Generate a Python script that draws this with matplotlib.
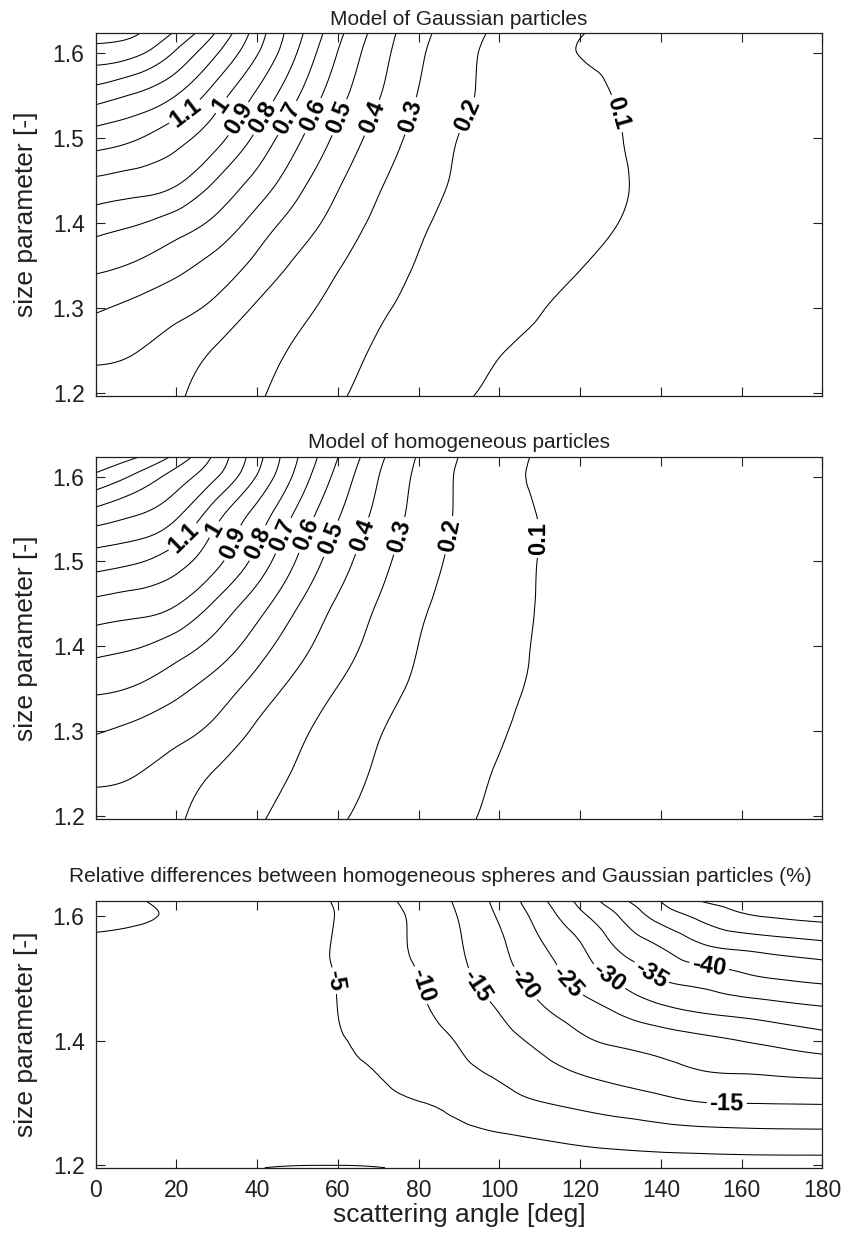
# Contour maps of the scattering quantity vs. angle and size parameter.
import matplotlib.pyplot as plt
import matplotlib.tri as mtri
import numpy as np

plt.rcParams['font.family'] = ['Liberation Sans', 'DejaVu Sans']
plt.rcParams['text.color'] = '#231f20'
plt.rcParams['axes.labelcolor'] = '#231f20'
plt.rcParams['xtick.color'] = '#231f20'
plt.rcParams['ytick.color'] = '#231f20'
plt.rcParams['contour.negative_linestyle'] = 'solid'

# grid: scattering angle [deg] (columns) and size parameter [-] (rows)
angle = [0, 10, 20, 30, 40, 50, 60, 70, 80, 90, 100, 110, 120, 130, 140, 150, 160, 170, 180]
size_param = [1.196, 1.25, 1.3, 1.35, 1.4, 1.45, 1.5, 1.55, 1.6, 1.624]

# model of Gaussian particles
gauss = [
    [0.445, 0.433, 0.41, 0.358, 0.31, 0.26, 0.209, 0.175, 0.145, 0.11, 0.092, 0.087, 0.084, 0.081, 0.078, 0.075, 0.072, 0.07, 0.068],
    [0.527, 0.504, 0.451, 0.392, 0.338, 0.286, 0.234, 0.191, 0.164, 0.137, 0.103, 0.095, 0.088, 0.085, 0.082, 0.079, 0.076, 0.073, 0.07],
    [0.613, 0.574, 0.531, 0.474, 0.387, 0.325, 0.267, 0.213, 0.181, 0.156, 0.131, 0.103, 0.09, 0.086, 0.083, 0.08, 0.077, 0.074, 0.071],
    [0.722, 0.688, 0.63, 0.561, 0.473, 0.379, 0.306, 0.246, 0.195, 0.172, 0.149, 0.126, 0.102, 0.09, 0.085, 0.082, 0.079, 0.076, 0.073],
    [0.842, 0.808, 0.753, 0.675, 0.559, 0.457, 0.358, 0.278, 0.213, 0.183, 0.162, 0.141, 0.12, 0.099, 0.088, 0.084, 0.081, 0.078, 0.075],
    [0.985, 0.96, 0.919, 0.794, 0.67, 0.535, 0.415, 0.314, 0.241, 0.191, 0.17, 0.148, 0.126, 0.104, 0.09, 0.085, 0.082, 0.079, 0.076],
    [1.151, 1.108, 1.032, 0.933, 0.775, 0.618, 0.477, 0.359, 0.268, 0.198, 0.174, 0.15, 0.125, 0.101, 0.09, 0.085, 0.082, 0.079, 0.076],
    [1.345, 1.287, 1.198, 1.046, 0.881, 0.707, 0.536, 0.407, 0.295, 0.219, 0.179, 0.151, 0.123, 0.095, 0.088, 0.084, 0.081, 0.078, 0.075],
    [1.554, 1.52, 1.383, 1.206, 1.006, 0.796, 0.596, 0.44, 0.318, 0.229, 0.175, 0.136, 0.098, 0.09, 0.085, 0.082, 0.079, 0.076, 0.073],
    [1.66, 1.61, 1.484, 1.291, 1.052, 0.83, 0.628, 0.46, 0.334, 0.244, 0.184, 0.147, 0.104, 0.09, 0.085, 0.082, 0.079, 0.076, 0.073],
]

# model of homogeneous particles
homog = [
    [0.445, 0.433, 0.41, 0.358, 0.31, 0.26, 0.209, 0.175, 0.145, 0.11, 0.092, 0.087, 0.084, 0.081, 0.078, 0.075, 0.072, 0.07, 0.068],
    [0.524, 0.503, 0.451, 0.392, 0.341, 0.29, 0.235, 0.19, 0.153, 0.122, 0.096, 0.088, 0.085, 0.082, 0.079, 0.076, 0.073, 0.07, 0.068],
    [0.608, 0.574, 0.531, 0.471, 0.383, 0.317, 0.259, 0.205, 0.17, 0.14, 0.107, 0.085, 0.083, 0.08, 0.077, 0.074, 0.071, 0.069, 0.067],
    [0.716, 0.69, 0.627, 0.552, 0.458, 0.368, 0.297, 0.234, 0.186, 0.154, 0.121, 0.09, 0.086, 0.083, 0.08, 0.077, 0.074, 0.071, 0.069],
    [0.835, 0.808, 0.75, 0.662, 0.547, 0.435, 0.342, 0.266, 0.199, 0.164, 0.129, 0.094, 0.087, 0.084, 0.081, 0.078, 0.075, 0.072, 0.07],
    [0.974, 0.95, 0.906, 0.781, 0.646, 0.507, 0.386, 0.295, 0.217, 0.172, 0.134, 0.097, 0.088, 0.085, 0.082, 0.079, 0.076, 0.073, 0.07],
    [1.144, 1.11, 1.04, 0.923, 0.764, 0.591, 0.446, 0.331, 0.243, 0.18, 0.139, 0.098, 0.088, 0.085, 0.082, 0.079, 0.076, 0.073, 0.07],
    [1.335, 1.287, 1.201, 1.018, 0.85, 0.667, 0.503, 0.369, 0.266, 0.19, 0.143, 0.098, 0.088, 0.085, 0.082, 0.079, 0.076, 0.073, 0.07],
    [1.58, 1.48, 1.356, 1.207, 0.993, 0.769, 0.569, 0.402, 0.279, 0.19, 0.135, 0.085, 0.08, 0.078, 0.076, 0.074, 0.072, 0.07, 0.068],
    [1.66, 1.612, 1.476, 1.272, 1.037, 0.804, 0.602, 0.427, 0.292, 0.199, 0.143, 0.09, 0.085, 0.082, 0.079, 0.076, 0.073, 0.07, 0.068],
]

# relative differences homogeneous vs Gaussian (%)
rel_diff = [
    [-2.0, -1.6, -1.2, -0.7, -0.1, 0.3, 0.35, 0.1, -0.5, -1.0, -1.5, -2.0, -2.3, -2.5, -2.6, -2.7, -2.75, -2.8, -2.8],
    [-2.8, -3.0, -3.1, -3.2, -3.3, -3.4, -3.5, -3.6, -3.9, -4.2, -4.85, -5.6, -6.5, -7.3, -8.0, -8.5, -8.8, -8.95, -9.0],
    [-3.2, -3.4, -3.5, -3.6, -3.8, -4.0, -4.15, -4.35, -4.9, -6.0, -8.1, -9.8, -11.1, -12.36, -13.6, -14.86, -15.1, -15.2, -15.3],
    [-3.1, -3.2, -3.4, -3.6, -3.9, -4.15, -4.5, -5.1, -6.9, -8.85, -10.84, -13.18, -15.33, -16.84, -18.34, -19.85, -20.3, -20.8, -21.3],
    [-2.8, -3.0, -3.2, -3.5, -3.9, -4.3, -4.8, -6.0, -8.1, -10.3, -13.2, -16.13, -19.18, -21.0, -22.4, -23.8, -25.1, -26.5, -27.9],
    [-2.4, -2.6, -2.9, -3.2, -3.7, -4.2, -5.02, -7.13, -9.26, -12.07, -15.3, -19.3, -22.7, -25.9, -28.9, -30.8, -32.0, -33.2, -34.3],
    [-1.8, -2.1, -2.5, -2.9, -3.5, -4.2, -5.15, -7.64, -9.89, -13.65, -17.7, -22.1, -26.8, -31.15, -35.2, -37.0, -38.9, -40.3, -41.2],
    [-0.7, -1.2, -1.8, -2.5, -3.2, -4.1, -5.35, -8.04, -10.76, -14.55, -19.07, -24.3, -29.5, -35.8, -40.05, -44.2, -45.9, -47.1, -48.2],
    [0.6, 0.4, -0.5, -1.7, -2.8, -4.0, -5.15, -8.0, -11.0, -15.26, -20.57, -26.9, -33.85, -40.4, -47.1, -51.25, -54.4, -55.6, -56.3],
    [1.0, 0.24, -0.87, -2.0, -3.1, -4.3, -5.3, -8.44, -11.7, -15.95, -21.55, -28.66, -36.3, -43.8, -50.1, -55.2, -56.5, -57.3, -58.0],
]

model_levels = [0.1, 0.2, 0.3, 0.4, 0.5, 0.6, 0.7, 0.8, 0.9, 1.0, 1.1, 1.2, 1.3, 1.4, 1.5, 1.6]
diff_levels = [-55, -50, -45, -40, -35, -30, -25, -20, -15, -10, -5, 0]

# which levels get a label, and roughly where
gauss_lab = [1.1, 1.0, 0.9, 0.8, 0.7, 0.6, 0.5, 0.4, 0.3, 0.2, 0.1]
gauss_lab_pos = [(22.1, 1.531), (30.4, 1.541), (34.9, 1.524), (41.1, 1.525), (47.3, 1.524), (53.5, 1.527),
                 (60.1, 1.525), (68, 1.525), (77.5, 1.527), (91.1, 1.529), (129.1, 1.529)]
homog_lab = [1.1, 1.0, 0.9, 0.8, 0.7, 0.6, 0.5, 0.4, 0.3, 0.2, 0.1]
homog_lab_pos = [(21.3, 1.53), (29.6, 1.537), (33.7, 1.522), (39.9, 1.522), (46.1, 1.531), (52.3, 1.531),
                 (58.1, 1.527), (65.5, 1.531), (74.6, 1.531), (87.4, 1.531), (109.3, 1.527)]
diff_lab = [-5, -10, -15, -20, -25, -30, -35, -40, -15]
diff_lab_pos = [(58.3, 1.495), (81.2, 1.49), (95, 1.49), (106, 1.49), (116.7, 1.493), (127, 1.501),
                (137.4, 1.506), (151.8, 1.512), (156.3, 1.2996)]


def fmt(v):
    return '%g' % v


def smoothGrid(z):
    # matplotlib's cubic triangle interpolator + refiner, so the contours are curves, not polylines
    ny, nx = len(size_param), len(angle)
    gx, gy = np.meshgrid(angle, size_param)
    idx = np.arange(ny * nx).reshape(ny, nx)
    a, b = idx[:-1, :-1].ravel(), idx[:-1, 1:].ravel()
    c, d = idx[1:, 1:].ravel(), idx[1:, :-1].ravel()
    triangles = np.concatenate([np.stack([a, b, c], 1), np.stack([a, c, d], 1)])
    # work in grid-step units so the cells are roughly square
    tri = mtri.Triangulation(gx.ravel() / 10.0, gy.ravel() / 0.05, triangles)
    zf = np.ravel(np.array(z, dtype=float))
    interp = mtri.CubicTriInterpolator(tri, zf, kind='min_E')
    tri_f, z_f = mtri.UniformTriRefiner(tri).refine_field(zf, triinterpolator=interp, subdiv=3)
    return mtri.Triangulation(tri_f.x * 10.0, tri_f.y * 0.05, tri_f.triangles), z_f


def snapToLevel(ax, cs, i, xy):
    # closest point (in pixels) on the drawn line of level i
    target = ax.transData.transform(xy)
    best = None
    for seg in cs.allsegs[i]:
        if len(seg) < 2:
            continue
        p = ax.transData.transform(seg)
        a, b = p[:-1], p[1:]
        ab = b - a
        t = np.clip(((target - a) * ab).sum(1) / np.maximum((ab ** 2).sum(1), 1e-12), 0, 1)
        q = a + ab * t[:, None]
        d = np.hypot(q[:, 0] - target[0], q[:, 1] - target[1])
        k = d.argmin()
        if best is None or d[k] < best[0]:
            best = (d[k], q[k])
    return tuple(ax.transData.inverted().transform(best[1]))


def contourPanel(ax, z, levels, lab, lab_pos, title, pad, title_x=0.5):
    ax.set_xlim(0, 180)
    ax.set_ylim(1.196, 1.6235)
    tri, zz = smoothGrid(z)
    cs = ax.tricontour(tri, zz, levels=levels, colors='k', linewidths=0.75)
    ax.set_xlim(0, 180)
    ax.set_ylim(1.196, 1.6235)
    spots = [snapToLevel(ax, cs, levels.index(lev), pos) for lev, pos in zip(lab, lab_pos)]
    with plt.rc_context({'font.weight': 'bold'}):
        ax.clabel(cs, manual=spots, fmt=fmt, fontsize=17, inline_spacing=3)
    ax.set_xticks([0, 20, 40, 60, 80, 100, 120, 140, 160, 180])
    ax.tick_params(direction='in', top=True, right=True, length=6.5, width=0.8, labelsize=16.5, pad=8)
    ax.set_title(title, fontsize=15, pad=pad, x=title_x)
    ax.set_ylabel('size parameter [-]', fontsize=19)
    ax.yaxis.set_label_coords(-0.079, 0.5)
    for s in ax.spines.values():
        s.set_linewidth(0.9)
        s.set_color('#231f20')


fig = plt.figure(figsize=(8.47, 12.34), dpi=100)
ax1 = fig.add_axes([0.113, 0.679, 0.858, 0.294])
ax2 = fig.add_axes([0.113, 0.336, 0.858, 0.294])
ax3 = fig.add_axes([0.113, 0.0537, 0.858, 0.216])

contourPanel(ax1, gauss, model_levels, gauss_lab, gauss_lab_pos, 'Model of Gaussian particles', 6)
ax1.set_yticks([1.2, 1.3, 1.4, 1.5, 1.6])
ax1.tick_params(labelbottom=False)

contourPanel(ax2, homog, model_levels, homog_lab, homog_lab_pos, 'Model of homogeneous particles', 6)
ax2.set_yticks([1.2, 1.3, 1.4, 1.5, 1.6])
ax2.tick_params(labelbottom=False)

contourPanel(ax3, rel_diff, diff_levels, diff_lab, diff_lab_pos,
             'Relative differences between homogeneous spheres and Gaussian particles (%)', 14, 0.4744)
ax3.set_yticks([1.2, 1.4, 1.6])
ax3.set_xlabel('scattering angle [deg]', fontsize=19, labelpad=1)

plt.savefig('out.png', dpi=100)
